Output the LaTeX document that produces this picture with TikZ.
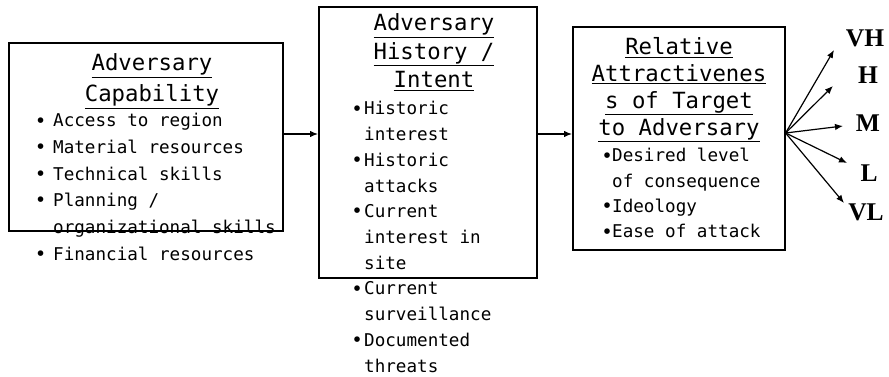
\documentclass[tikz,border=0pt]{standalone}
\usepackage{fontspec}
\newfontfamily\gothic{DejaVu Sans Mono}
\newfontfamily\levelfont{Liberation Serif}
\usetikzlibrary{arrows.meta}

% bullet cell and continuation indent; width set per box through \bw
\newcommand\itembullet{\makebox[\bw][c]{\raisebox{0.05em}{\scalebox{0.9}{\bfseries •}}}}
\newcommand\itemcont{\hspace*{\bw}}

\begin{document}
\begin{tikzpicture}[x=1pt,y=-1pt,
  box/.style={draw, line width=1.6pt, inner sep=0pt, anchor=north west},
  head/.style={anchor=base, inner sep=0pt, font=\gothic\fontsize{22.3}{26}\selectfont},
  item/.style={anchor=base west, inner sep=0pt, font=\gothic\fontsize{17.6}{20}\selectfont},
  level/.style={inner sep=0pt, font=\levelfont\bfseries\fontsize{25.5}{28}\selectfont},
  link/.style={line width=1.2pt, -{Latex[length=8pt,width=6.5pt]}}]
\useasboundingbox (0,0) rectangle (889,377);

% the three boxes
\node[box, minimum width=274pt, minimum height=188pt] (cap) at (8,42) {};
\node[box, minimum width=218pt, minimum height=271pt] (hist) at (318,6) {};
\node[box, minimum width=212pt, minimum height=223pt] (rel) at (572,26) {};

% Adversary Capability
\foreach \t [count=\i] in {Adversary, Capability}
  \node[head] (capH\i) at ({152},{71+31*(\i-1)}) {\underline{\t}};
\def\bw{25pt}
\foreach \t [count=\i] in {\itembullet Access to region,
    \itembullet Material resources, \itembullet Technical skills,
    \itembullet Planning /, \itemcont organizational skills,
    \itembullet Financial resources}
  \node[item] (capB\i) at ({28},{127+26.6*(\i-1)}) {\t};

% Adversary History / Intent
\foreach \t [count=\i] in {Adversary, History /, Intent}
  \node[head] (histH\i) at ({434},{31+28.5*(\i-1)}) {\underline{\t}};
\foreach \t [count=\i] in {\itembullet Historic, \itemcont interest,
    \itembullet Historic, \itemcont attacks,
    \itembullet Current, \itemcont interest in, \itemcont site,
    \itembullet Current, \itemcont surveillance,
    \itembullet Documented, \itemcont threats}
  \node[item] (histB\i) at ({350},{115+25.7*(\i-1)}) {\def\bw{14pt}\t};

% Relative Attractiveness of Target to Adversary
\foreach \t [count=\i] in {Relative, Attractivenes, s of Target, to Adversary}
  \node[head] (relH\i) at ({679},{55+26.7*(\i-1)}) {\underline{\t}};
\foreach \t [count=\i] in {\itembullet Desired level, \itemcont of consequence,
    \itembullet Ideology, \itembullet Ease of attack}
  \node[item] (relB\i) at ({602},{162+25.3*(\i-1)}) {\def\bw{10pt}\t};

% connectors between the boxes
\coordinate (row) at (0,134);
\draw[link] (cap.east |- row) -- (hist.west |- row);
\draw[link] (hist.east |- row) -- (rel.west |- row);

% fan of outcome levels
\coordinate (fan) at (rel.east |- 0,133);
\coordinate (tipVH) at (834,50);
\coordinate (tipH) at (833,86);
\coordinate (tipM) at (843,126);
\coordinate (tipL) at (847,163);
\coordinate (tipVL) at (844,203);
\foreach \n in {VH,H,M,L,VL}
  \draw[link] (fan) -- (tip\n);

\node[level] (lvVH) at (865,38) {VH};
\node[level] (lvH) at (868,75) {H};
\node[level] (lvM) at (868,123) {M};
\node[level] (lvL) at (869,173) {L};
\node[level] (lvVL) at (866,212) {VL};
\end{tikzpicture}
\end{document}
